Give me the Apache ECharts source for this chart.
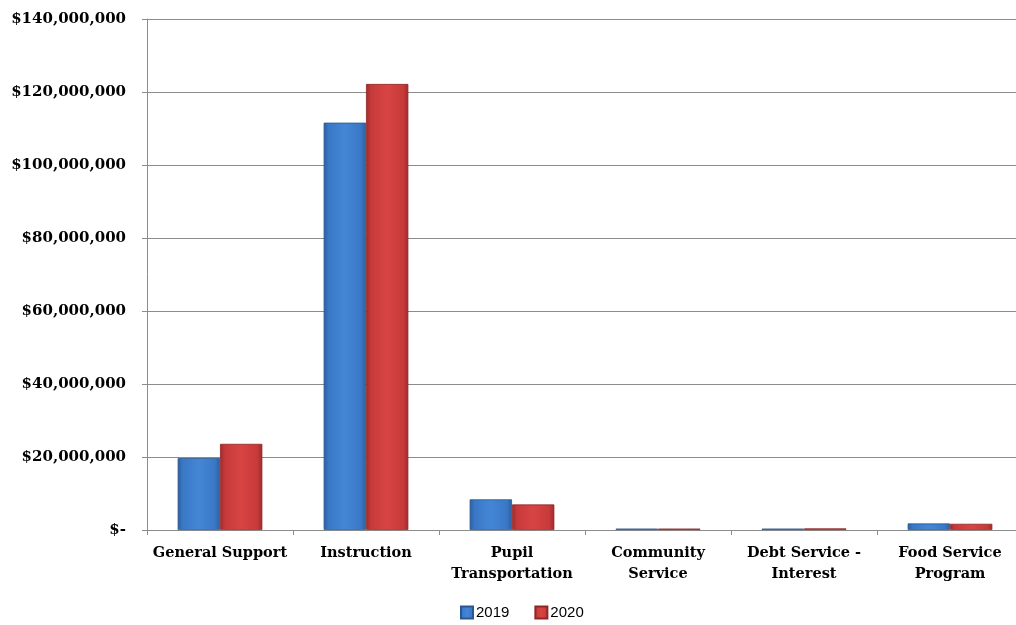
<!DOCTYPE html>
<html>
<head>
<meta charset="utf-8">
<script src="https://cdn.jsdelivr.net/npm/echarts@6/dist/echarts.min.js"></script>
<style>
  html, body { margin: 0; padding: 0; background: #fff; }
  #chart { width: 1016px; height: 625px; }
</style>
</head>
<body>
<div id="chart"></div>
<script>
// expense categories and yearly totals (dollars)
const categories = [
  'General Support',
  'Instruction',
  'Pupil\nTransportation',
  'Community\nService',
  'Debt Service -\nInterest',
  'Food Service\nProgram'
]
const values2019 = [19700000, 111600000, 8400000, 400000, 400000, 1800000]
const values2020 = [23600000, 122200000, 7000000, 400000, 450000, 1700000]
const seriesNames = ['2019', '2020']

const SERIF = '"DejaVu Serif", "Liberation Serif", serif'

// fake the glossy bevel with a horizontal gradient
function barFill(dark, mid, light) {
  return new echarts.graphic.LinearGradient(0, 0, 1, 0, [
    { offset: 0, color: dark },
    { offset: 0.12, color: mid },
    { offset: 0.5, color: light },
    { offset: 0.88, color: mid },
    { offset: 1, color: dark }
  ])
}

const blueFill = barFill('#2d5f9f', '#3a78c6', '#4486d6')
const redFill = barFill('#a02a2a', '#c73a3a', '#d84444')

function money(v) {
  if (v === 0) return '$-'
  return '$' + v.toLocaleString('en-US')
}

const chart = echarts.init(document.getElementById('chart'))
chart.setOption({
  animation: false,
  backgroundColor: '#fff',
  // plot runs a little past the right edge, as in the original
  grid: { left: 147, width: 876, top: 19, bottom: 95, outerBoundsMode: 'none' },
  legend: {
    bottom: 0,
    left: 455,
    itemWidth: 12,
    itemHeight: 12,
    itemGap: 25,
    icon: 'rect',
    textStyle: {
      fontFamily: '"Liberation Sans", Arial, sans-serif',
      fontSize: 15,
      color: '#000',
      padding: [0, 0, 0, -2]
    },
    data: seriesNames
  },
  xAxis: {
    type: 'category',
    data: categories,
    axisLine: { lineStyle: { color: '#8c8c8c', width: 1 } },
    axisTick: { show: true, length: 5, lineStyle: { color: '#8c8c8c' } },
    axisLabel: {
      fontFamily: SERIF,
      fontWeight: 'bold',
      fontSize: 14.5,
      color: '#000',
      margin: 13,
      lineHeight: 21,
      interval: 0
    }
  },
  yAxis: {
    type: 'value',
    min: 0,
    max: 140000000,
    interval: 20000000,
    axisLine: { show: true, lineStyle: { color: '#8c8c8c' } },
    axisTick: { show: true, length: 5, lineStyle: { color: '#8c8c8c' } },
    splitLine: { lineStyle: { color: '#8c8c8c', width: 1 } },
    axisLabel: {
      fontFamily: SERIF,
      fontWeight: 'bold',
      fontSize: 15,
      color: '#000',
      margin: 21,
      formatter: money
    }
  },
  series: [
    {
      name: seriesNames[0],
      type: 'bar',
      data: values2019,
      barGap: '0%',
      barCategoryGap: '42%',
      itemStyle: { color: blueFill, borderColor: '#2a578f', borderWidth: 0.8 }
    },
    {
      name: seriesNames[1],
      type: 'bar',
      data: values2020,
      itemStyle: { color: redFill, borderColor: '#8e2626', borderWidth: 0.8 }
    }
  ]
})
</script>
</body>
</html>
